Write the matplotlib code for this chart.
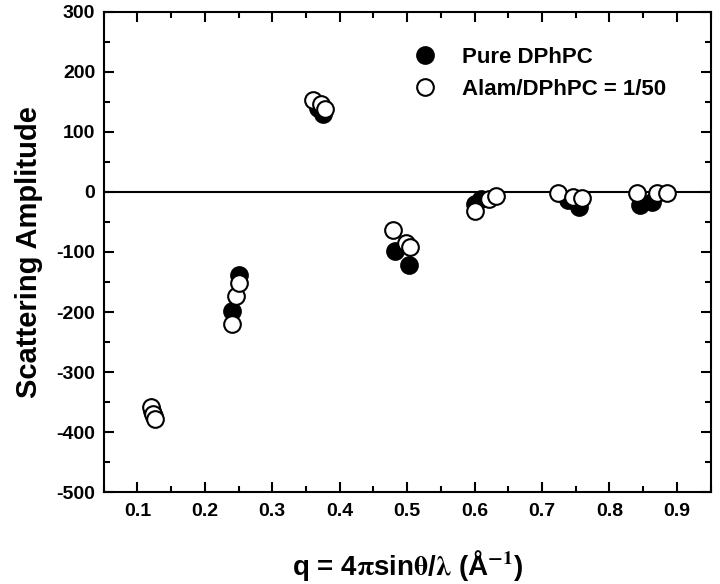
import matplotlib
matplotlib.use("Agg")
import matplotlib.pyplot as plt
from matplotlib.ticker import MultipleLocator

# Pure DPhPC (filled circles)
q_pure = [0.121, 0.124, 0.24, 0.25, 0.368, 0.375, 0.482, 0.503,
          0.60, 0.61, 0.739, 0.755, 0.845, 0.863]
amp_pure = [-365, -373, -198, -138, 140, 130, -99, -121,
            -20, -12, -14, -25, -21, -17]

# Alam/DPhPC = 1/50 (open circles)
q_alam = [0.12, 0.123, 0.126, 0.24, 0.246, 0.25, 0.36, 0.372, 0.378,
          0.479, 0.499, 0.504, 0.60, 0.622, 0.632, 0.723, 0.746, 0.759,
          0.841, 0.871, 0.885]
amp_alam = [-358, -370, -378, -220, -173, -152, 153, 146, 138,
            -64, -85, -92, -31, -12, -7, -1, -8, -10,
            -1, -1, -1]

x_ticks = [0.1, 0.2, 0.3, 0.4, 0.5, 0.6, 0.7, 0.8, 0.9]
y_ticks = [300, 200, 100, 0, -100, -200, -300, -400, -500]

plt.rcParams["font.family"] = ["Liberation Sans", "DejaVu Sans"]
plt.rcParams["font.weight"] = "bold"
plt.rcParams["mathtext.fontset"] = "stix"

fig = plt.figure(figsize=(7.2, 5.84), dpi=100)
ax = fig.add_axes([0.144, 0.1575, 0.843, 0.822])

ax.axhline(0, color="black", lw=1.5, zorder=1)

ax.plot(q_pure, amp_pure, "o", ms=12, mfc="black", mec="black", mew=1.5,
        label="Pure DPhPC", zorder=2)
ax.plot(q_alam, amp_alam, "o", ms=12, mfc="white", mec="black", mew=1.5,
        label="Alam/DPhPC = 1/50", zorder=3)

ax.set_xlim(0.05, 0.95)
ax.set_ylim(-500, 300)
ax.xaxis.set_minor_locator(MultipleLocator(0.05))
ax.yaxis.set_minor_locator(MultipleLocator(50))
ax.set_xticks(x_ticks)
ax.set_xticklabels([f"{t:.1f}" for t in x_ticks])
ax.set_yticks(y_ticks)
ax.set_yticklabels([str(t) for t in y_ticks])  # plain hyphen, not unicode minus

ax.tick_params(which="both", direction="in", top=True, right=True,
               labelsize=14, width=1.5)
ax.tick_params(axis="x", pad=8)
ax.tick_params(axis="y", pad=6)
ax.tick_params(which="major", length=7)
ax.tick_params(which="minor", length=4)
for s in ax.spines.values():
    s.set_linewidth(1.5)

ax.set_ylabel("Scattering Amplitude", fontsize=21, fontweight="bold", labelpad=10)
ax.set_xlabel(r"q = 4$\mathrm{\pi}$sin$\mathrm{\theta}$/$\mathrm{\lambda}$ (Å$^{-1}$)",
              fontsize=20, fontweight="bold", labelpad=20)

ax.legend(loc="upper left", bbox_to_anchor=(0.511, 0.927), frameon=False,
          borderpad=0, borderaxespad=0, handlelength=1.0,
          handletextpad=1.17, labelspacing=0.5, prop={"weight": "bold", "size": 16})

fig.savefig("out.png", dpi=100)
